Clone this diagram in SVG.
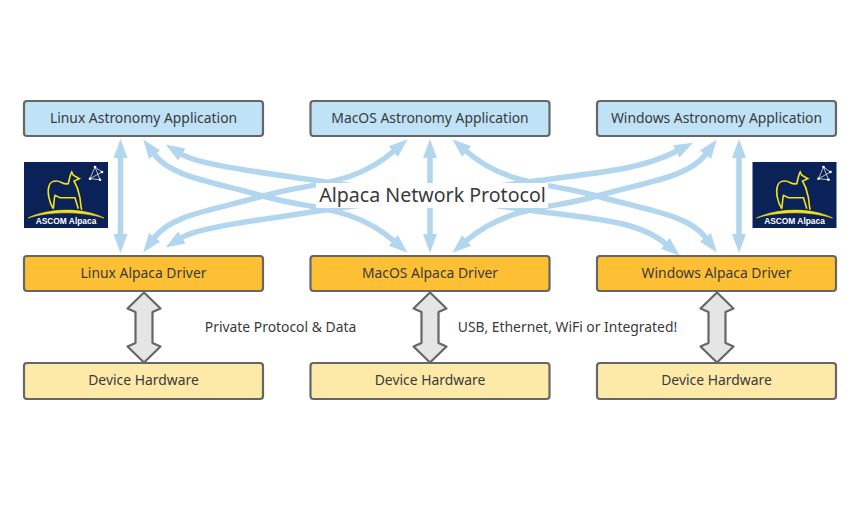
<svg xmlns="http://www.w3.org/2000/svg" width="860" height="530" viewBox="0 0 860 530">
<style>
text{font-family:"Noto Sans","Liberation Sans",sans-serif;fill:#3a3a3a;text-anchor:middle}
.n{font-size:13.900px}
.b{stroke:#666;stroke-width:2.2}
.app{fill:#bfe2f7}.drv{fill:#fdc035}.hw{fill:#fdeaa9}
.a{fill:none;stroke:#b3d6ef;stroke-width:5.500;marker-start:url(#h);marker-end:url(#h)}
.g{fill:#e5e5e5;stroke:#666;stroke-width:2.200;stroke-linejoin:round}
.ll{fill:none;stroke:#f2e21b;stroke-width:1.600}
.lt{font-family:"Liberation Sans",sans-serif;font-weight:bold;font-size:8.400px;fill:#fff}
.cl{fill:none;stroke:#fff;stroke-width:.7}
</style>
<defs>
<marker id="h" markerUnits="userSpaceOnUse" markerWidth="20" markerHeight="16" refX="1" refY="8" orient="auto-start-reverse" viewBox="0 0 20 16"><path d="M0 1L19 8L0 15Z" fill="#b3d6ef"/></marker>
</defs>
<rect width="860" height="530" fill="#fff"/>
<g id="connectors">
<path class="a" d="M120.500 157V235"/>
<path class="a" d="M430 157V235"/>
<path class="a" d="M739 157V235"/>
<path class="a" d="M154 154C172 178 215 182 263 196S352 205 394 241"/>
<path class="a" d="M154 238C172 214 215 210 263 196S352 187 394 151"/>
<path class="a" d="M706 154C688 178 645 182 597 196S508 205 466 241"/>
<path class="a" d="M706 238C688 214 645 210 597 196S508 187 466 151"/>
<path class="a" d="M181 154C199 165 260 172 325 182L535 211C600 219 640 222 666 244"/>
<path class="a" d="M181 238C199 227 260 220 325 210L535 181C600 172 640 170 677 151"/>
<rect x="316" y="183" width="232" height="25" fill="#fff"/>
<path class="g" d="M144 292.500L160.500 308.500L152.500 312V343L160.500 346.500L144 362.500L127.500 346.500L135.500 343V312L127.500 308.500Z"/>
<path class="g" d="M430 292.500L446.500 308.500L438.500 312V343L446.500 346.500L430 362.500L413.500 346.500L421.500 343V312L413.500 308.500Z"/>
<path class="g" d="M717 292.500L733.500 308.500L725.500 312V343L733.500 346.500L717 362.500L700.500 346.500L708.500 343V312L700.500 308.500Z"/>
</g>
<text x="432.500" y="202" font-size="19.600">Alpaca Network Protocol</text>
<text x="280.500" y="332" class="n">Private Protocol &amp; Data</text>
<text x="567.500" y="332" class="n">USB, Ethernet, WiFi or Integrated!</text>
<g id="linux-app"><rect class="b app" x="24" y="101" width="239" height="35" rx="3"/><text class="n" x="143.500" y="123">Linux Astronomy Application</text></g>
<g id="macos-app"><rect class="b app" x="310.500" y="101" width="239" height="35" rx="3"/><text class="n" x="430" y="123">MacOS Astronomy Application</text></g>
<g id="windows-app"><rect class="b app" x="597" y="101" width="239" height="35" rx="3"/><text class="n" x="716.500" y="123">Windows Astronomy Application</text></g>
<g id="linux-driver"><rect class="b drv" x="24" y="256" width="239" height="35" rx="3"/><text class="n" x="143.500" y="278">Linux Alpaca Driver</text></g>
<g id="macos-driver"><rect class="b drv" x="310.500" y="256" width="239" height="35" rx="3"/><text class="n" x="430" y="278">MacOS Alpaca Driver</text></g>
<g id="windows-driver"><rect class="b drv" x="597" y="256" width="239" height="35" rx="3"/><text class="n" x="716.500" y="278">Windows Alpaca Driver</text></g>
<g id="linux-hw"><rect class="b hw" x="24" y="363" width="239" height="36" rx="3"/><text class="n" x="143.500" y="385">Device Hardware</text></g>
<g id="macos-hw"><rect class="b hw" x="310.500" y="363" width="239" height="36" rx="3"/><text class="n" x="430" y="385">Device Hardware</text></g>
<g id="windows-hw"><rect class="b hw" x="597" y="363" width="239" height="36" rx="3"/><text class="n" x="716.500" y="385">Device Hardware</text></g>
<g id="logo-left" transform="translate(24 162)">
<rect width="84" height="66" fill="#0a2257"/>
<path class="ll" d="M57.700 47.700C56 42 57 38 55.300 33.300C54.500 28 53 24 50 19L55.300 16.700L49.300 13.300L47.700 10C46 13 45.500 16 44.300 21.700C39 23 37 19 32.700 19C28 19 26 20 25 24C23 30 25 40 29.300 46.700M29.300 46.700C30 42 30 37 31 33.300L36 35.700H51L54.300 46.700"/>
<path d="M4 56C25 46 58 45 80 56C58 49 25 49 4 56Z" fill="#f2e21b" stroke="#f2e21b" stroke-width=".6"/>
<path class="cl" d="M66 16.700L71 5L76 17.700L66 16.700L78 10L71 5"/>
<g fill="#fff"><circle cx="71" cy="5" r="1.300"/><circle cx="78" cy="10" r="1.300"/><circle cx="66" cy="16.700" r="1.300"/><circle cx="76" cy="17.700" r="1.300"/></g>
<text class="lt" x="42" y="62">ASCOM Alpaca</text>
</g>
<g id="logo-right" transform="translate(752.500 162)">
<rect width="84" height="66" fill="#0a2257"/>
<path class="ll" d="M57.700 47.700C56 42 57 38 55.300 33.300C54.500 28 53 24 50 19L55.300 16.700L49.300 13.300L47.700 10C46 13 45.500 16 44.300 21.700C39 23 37 19 32.700 19C28 19 26 20 25 24C23 30 25 40 29.300 46.700M29.300 46.700C30 42 30 37 31 33.300L36 35.700H51L54.300 46.700"/>
<path d="M4 56C25 46 58 45 80 56C58 49 25 49 4 56Z" fill="#f2e21b" stroke="#f2e21b" stroke-width=".6"/>
<path class="cl" d="M66 16.700L71 5L76 17.700L66 16.700L78 10L71 5"/>
<g fill="#fff"><circle cx="71" cy="5" r="1.300"/><circle cx="78" cy="10" r="1.300"/><circle cx="66" cy="16.700" r="1.300"/><circle cx="76" cy="17.700" r="1.300"/></g>
<text class="lt" x="42" y="62">ASCOM Alpaca</text>
</g>
</svg>
